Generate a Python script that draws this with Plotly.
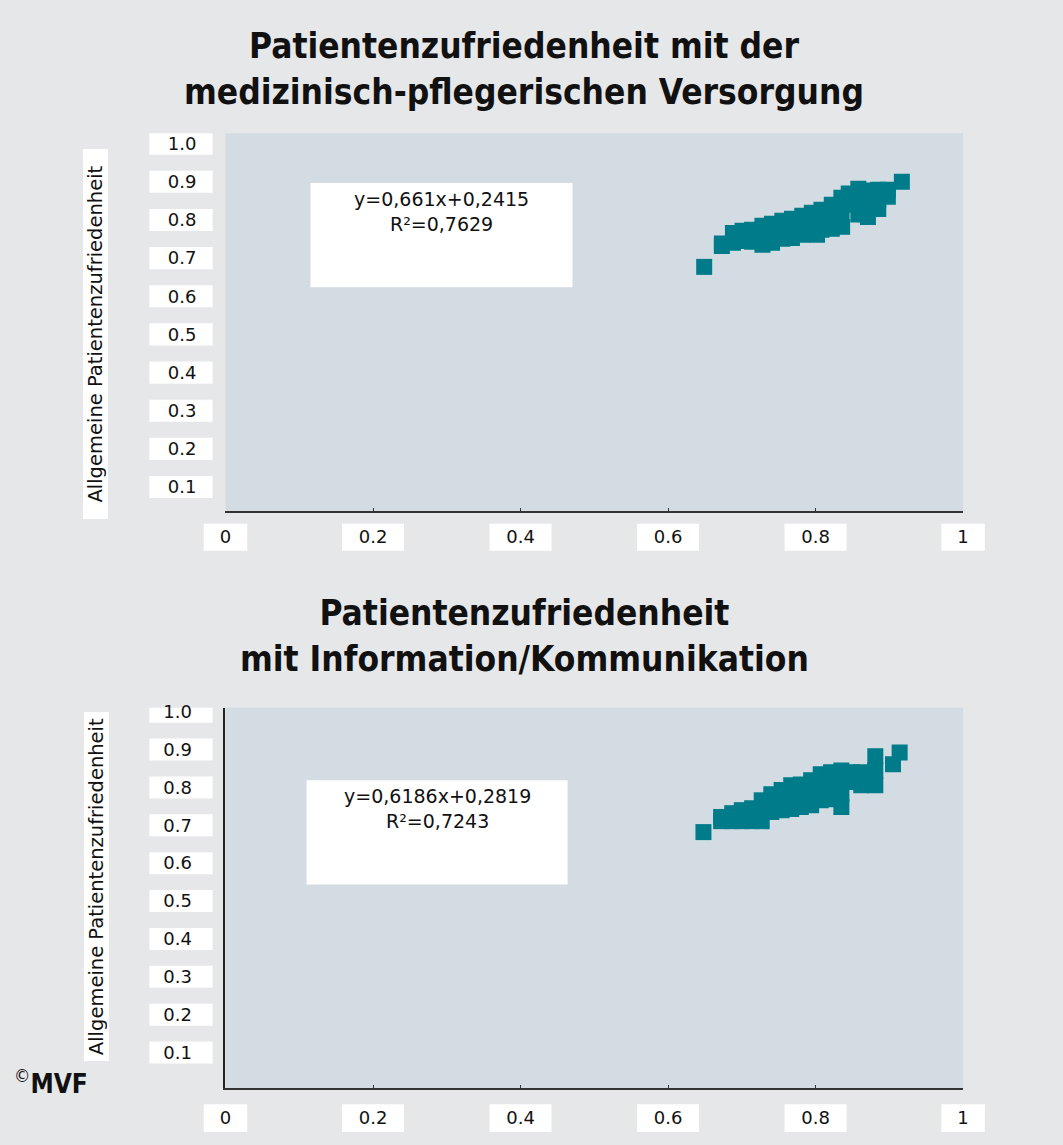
import plotly.graph_objects as go

# ---------------- data ----------------
x_versorgung = [0.649,
                0.673, 0.673, 0.688, 0.688, 0.701, 0.701, 0.714, 0.714,
                0.728, 0.728, 0.728, 0.741, 0.741, 0.741, 0.755, 0.755, 0.755,
                0.768, 0.768, 0.768, 0.782, 0.782, 0.782, 0.795, 0.795, 0.795,
                0.802, 0.808, 0.808, 0.808, 0.822, 0.822, 0.822,
                0.835, 0.835, 0.835, 0.836, 0.845, 0.845,
                0.858, 0.858, 0.858, 0.871, 0.871, 0.871,
                0.885, 0.885, 0.885, 0.898, 0.898, 0.917]
y_versorgung = [0.677,
                0.738, 0.732, 0.766, 0.740, 0.772, 0.745, 0.774, 0.743,
                0.785, 0.753, 0.735, 0.790, 0.761, 0.740, 0.798, 0.772, 0.751,
                0.803, 0.777, 0.753, 0.811, 0.785, 0.761, 0.819, 0.793, 0.766,
                0.761, 0.827, 0.801, 0.774, 0.840, 0.808, 0.777,
                0.858, 0.827, 0.798, 0.782, 0.869, 0.840,
                0.882, 0.853, 0.814, 0.877, 0.845, 0.808,
                0.879, 0.853, 0.829, 0.879, 0.861, 0.900]

x_information = [0.648,
                 0.672, 0.672, 0.687, 0.687, 0.700, 0.700, 0.714, 0.714,
                 0.727, 0.727, 0.727, 0.740, 0.740, 0.740, 0.754, 0.754, 0.754,
                 0.767, 0.767, 0.767, 0.780, 0.780, 0.780, 0.794, 0.794, 0.794,
                 0.807, 0.807, 0.807, 0.821, 0.821, 0.821,
                 0.835, 0.835, 0.835, 0.835, 0.849, 0.849, 0.862, 0.862,
                 0.881, 0.881, 0.881, 0.905, 0.914]
y_information = [0.682,
                 0.722, 0.711, 0.732, 0.711, 0.740, 0.711, 0.745, 0.711,
                 0.766, 0.735, 0.711, 0.782, 0.756, 0.735, 0.793, 0.766, 0.740,
                 0.806, 0.774, 0.743, 0.808, 0.780, 0.748, 0.819, 0.787, 0.753,
                 0.835, 0.798, 0.766, 0.840, 0.806, 0.769,
                 0.845, 0.814, 0.782, 0.748, 0.840, 0.814, 0.840, 0.806,
                 0.882, 0.845, 0.806, 0.861, 0.892]

x_ticks = [0, 0.2, 0.4, 0.6, 0.8, 1]
x_ticklabels = ["0", "0.2", "0.4", "0.6", "0.8", "1"]
y_ticks = [0.1, 0.2, 0.3, 0.4, 0.5, 0.6, 0.7, 0.8, 0.9, 1.0]
y_ticklabels = ["0.1", "0.2", "0.3", "0.4", "0.5", "0.6", "0.7", "0.8", "0.9", "1.0"]

title_1 = "Patientenzufriedenheit mit der<br>medizinisch-pflegerischen Versorgung"
title_2 = "Patientenzufriedenheit<br>mit Information/Kommunikation"
eq_1 = "y=0,661x+0,2415<br>R²=0,7629"
eq_2 = "y=0,6186x+0,2819<br>R²=0,7243"
y_title = "Allgemeine Patientenzufriedenheit"

# ---------------- style ----------------
W, H = 1063, 1145
PAPER = "#e6e7e9"
PLOTBG = "#d3dce3"
TEAL = "#007b8a"
FONT = "DejaVu Sans"
TFONT = "DejaVu Sans Condensed, DejaVu Sans, sans-serif"

def py(p):  # pixel (from top) -> paper fraction
    return 1 - p / H

def px(p):
    return p / W

fig = go.Figure()
fig.add_trace(go.Scatter(x=x_versorgung, y=y_versorgung, mode="markers",
                         marker=dict(symbol="square", size=16, color=TEAL, line=dict(width=0)),
                         xaxis="x", yaxis="y", showlegend=False, hoverinfo="x+y"))
fig.add_trace(go.Scatter(x=x_information, y=y_information, mode="markers",
                         marker=dict(symbol="square", size=16, color=TEAL, line=dict(width=0)),
                         xaxis="x2", yaxis="y2", showlegend=False, hoverinfo="x+y"))

xdom = [px(222), px(968)]
panels = [
    dict(xa="xaxis", ya="yaxis", xr="x", yr="y", top=127, bot=507, yrange=[0.0375, 1.0273],
         yline=False, xstand=8,
         xbox=(520, 547), ytit=(145, 512), tcy=62, eq=(308, 573, 177, 282), eqtext=eq_1, title=title_1),
    dict(xa="xaxis2", ya="yaxis2", xr="x2", yr="y2", top=705, bot=1088, yrange=[0.0055, 1.0105],
         yline=True, xstand=12,
         xbox=(1104, 1132), ytit=(712, 1058), tcy=633, eq=(304, 568, 778, 883), eqtext=eq_2, title=title_2),
]

shapes = []
annotations = []
for p in panels:
    fig.update_layout(**{
        p["xa"]: dict(domain=xdom, range=[0, 1], tickvals=x_ticks, ticktext=x_ticklabels,
                      showgrid=False, zeroline=False, showline=True, linecolor="#333333", linewidth=2,
                      ticks="inside", ticklen=3, tickcolor="#333333", ticklabelstandoff=p["xstand"],
                      tickfont=dict(family=FONT, size=18, color="#111"),
                      anchor=p["yr"], fixedrange=True),
        p["ya"]: dict(domain=[py(p["bot"]), py(p["top"])], range=p["yrange"], tickvals=y_ticks,
                      ticktext=y_ticklabels, showgrid=False, zeroline=False,
                      showline=p["yline"], linecolor="#222222", linewidth=2,
                      ticks="", ticklabelstandoff=28,
                      tickfont=dict(family=FONT, size=18, color="#111"),
                      anchor=p["xr"], fixedrange=True),
    })
    for v, t in zip(x_ticks, x_ticklabels):
        hw = 0.0295 if len(t) == 1 else 0.042
        shapes.append(dict(type="rect", xref="paper", yref="paper",
                           x0=xdom[0] + (v - hw) * (xdom[1] - xdom[0]),
                           x1=xdom[0] + (v + hw) * (xdom[1] - xdom[0]),
                           y0=py(p["xbox"][1]), y1=py(p["xbox"][0]), fillcolor="white",
                           line=dict(width=0), layer="below"))
    for v in y_ticks:
        shapes.append(dict(type="rect", xref="paper", yref=p["yr"], x0=px(145), x1=px(209),
                           y0=v - 0.029, y1=v + 0.029, fillcolor="white",
                           line=dict(width=0), layer="below"))
    x0, x1, y0, y1 = p["eq"]
    shapes.append(dict(type="rect", xref="paper", yref="paper", x0=px(x0), x1=px(x1),
                       y0=py(y1), y1=py(y0), fillcolor="white", line=dict(width=0), layer="below"))
    annotations.append(dict(text=p["eqtext"], xref="paper", yref="paper",
                            x=px((x0 + x1) / 2), y=py(y0 + 3), xanchor="center", yanchor="top",
                            showarrow=False, align="center",
                            font=dict(family=FONT, size=19, color="#111")))
    t0, t1 = p["ytit"]
    annotations.append(dict(text=y_title, xref="paper", yref="paper", x=px(91), y=py((t0 + t1) / 2),
                            xanchor="center", yanchor="middle", textangle=-90, showarrow=False,
                            bgcolor="white", width=t1 - t0, height=22,
                            font=dict(family=FONT, size=19.5, color="#111")))
    annotations.append(dict(text="<b>" + p["title"] + "</b>", xref="paper", yref="paper",
                            x=px(524), y=py(p["tcy"]), xanchor="center", yanchor="middle",
                            showarrow=False, align="center",
                            font=dict(family=TFONT, size=35, color="#111")))

annotations.append(dict(text="<sup>©</sup><b>MVF</b>", xref="paper", yref="paper",
                        x=px(6), y=py(1082), xanchor="left", yanchor="middle", showarrow=False,
                        font=dict(family=TFONT, size=26, color="#111")))

fig.update_layout(width=W, height=H, margin=dict(l=0, r=0, t=0, b=0),
                  paper_bgcolor=PAPER, plot_bgcolor=PLOTBG,
                  shapes=shapes, annotations=annotations, showlegend=False)

fig.write_html("out.html", config={"displayModeBar": False},
               post_script="document.body.style.margin='0';document.body.style.overflow='hidden';")
